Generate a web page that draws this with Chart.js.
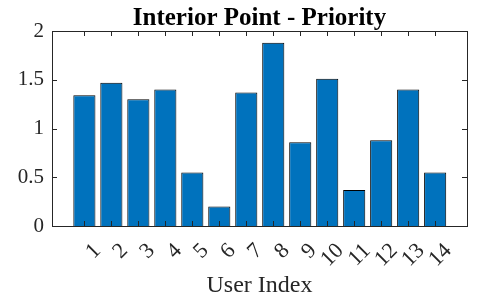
<!DOCTYPE html>
<html lang="en">
<head>
    <meta charset="UTF-8">
    <title>Interior Point - Priority</title>
    <style>
        body { margin: 0; background: #fff; }
        .chart-container { width: 480px; height: 302px; }
    </style>
</head>
<body>
    <div class="chart-container">
        <canvas id="priorityChart"></canvas>
    </div>

    <script src="https://cdn.jsdelivr.net/npm/chart.js"></script>
    <script>
        // data
        const userIndex = [1, 2, 3, 4, 5, 6, 7, 8, 9, 10, 11, 12, 13, 14];
        const priority = [1.34, 1.47, 1.30, 1.40, 0.55, 0.20, 1.37, 1.88, 0.86, 1.51, 0.37, 0.88, 1.40, 0.55];
        const yTicks = [0, 0.5, 1, 1.5, 2];

        const axisColor = '#262626';
        const serif = "'Liberation Serif', 'DejaVu Serif', serif";

        // MATLAB style box with inward ticks on all four sides,
        // and the title centred over the plot area instead of the canvas
        const boxPlugin = {
            id: 'box',
            afterLayout(chart) {
                const t = chart.titleBlock;
                if (t) {
                    t.left = chart.chartArea.left;
                    t.right = chart.chartArea.right;
                }
            },
            afterDatasetsDraw(chart) {
                const { ctx, chartArea: a, scales: { x, y } } = chart;
                const len = 5;
                ctx.save();
                ctx.strokeStyle = axisColor;
                ctx.lineWidth = 1;
                ctx.beginPath();
                userIndex.forEach(v => {
                    const px = Math.round(x.getPixelForValue(v)) + 0.5;
                    ctx.moveTo(px, a.bottom); ctx.lineTo(px, a.bottom - len);
                    ctx.moveTo(px, a.top); ctx.lineTo(px, a.top + len);
                });
                yTicks.forEach(v => {
                    const py = Math.round(y.getPixelForValue(v)) + 0.5;
                    ctx.moveTo(a.left, py); ctx.lineTo(a.left + len, py);
                    ctx.moveTo(a.right, py); ctx.lineTo(a.right - len, py);
                });
                ctx.stroke();
                ctx.strokeRect(Math.round(a.left) + 0.5, Math.round(a.top) + 0.5,
                    Math.round(a.right - a.left), Math.round(a.bottom - a.top));
                ctx.restore();
            }
        };

        new Chart(document.getElementById('priorityChart'), {
            type: 'bar',
            data: {
                datasets: [{
                    data: userIndex.map((u, i) => ({ x: u, y: priority[i] })),
                    backgroundColor: '#0072BD',
                    borderColor: '#000',
                    borderWidth: 1,
                    barPercentage: 0.82,
                    categoryPercentage: 1
                }]
            },
            options: {
                responsive: true,
                maintainAspectRatio: false,
                animation: false,
                layout: { padding: { left: 0, right: 13, top: 0, bottom: 0 } },
                plugins: {
                    legend: { display: false },
                    tooltip: { enabled: false },
                    title: {
                        display: true,
                        text: 'Interior Point - Priority',
                        color: '#000',
                        font: { family: serif, size: 25, weight: 'bold', lineHeight: 0.96 },
                        padding: { top: 7, bottom: 0 }
                    }
                },
                scales: {
                    x: {
                        type: 'linear',
                        offset: false,
                        min: -0.2,
                        max: 15.18,
                        afterBuildTicks: s => { s.ticks = userIndex.map(v => ({ value: v })); },
                        afterFit: s => { s.height = 76; },
                        grid: { display: false, drawTicks: false },
                        border: { display: false },
                        ticks: {
                            autoSkip: false,
                            minRotation: 45,
                            maxRotation: 45,
                            labelOffset: 13,
                            padding: 12,
                            color: axisColor,
                            font: { family: serif, size: 22 },
                            callback: v => String(v)
                        },
                        title: {
                            display: true,
                            text: 'User Index',
                            color: axisColor,
                            font: { family: serif, size: 24 },
                            padding: { top: 0, bottom: 2 }
                        }
                    },
                    y: {
                        min: 0,
                        max: 2,
                        afterBuildTicks: s => { s.ticks = yTicks.map(v => ({ value: v })); },
                        afterFit: s => { s.width = 52; },
                        grid: { display: false, drawTicks: false },
                        border: { display: false },
                        ticks: {
                            padding: 8,
                            color: axisColor,
                            font: { family: serif, size: 21 },
                            callback: v => String(v)
                        }
                    }
                }
            },
            plugins: [boxPlugin]
        });
    </script>
</body>
</html>
